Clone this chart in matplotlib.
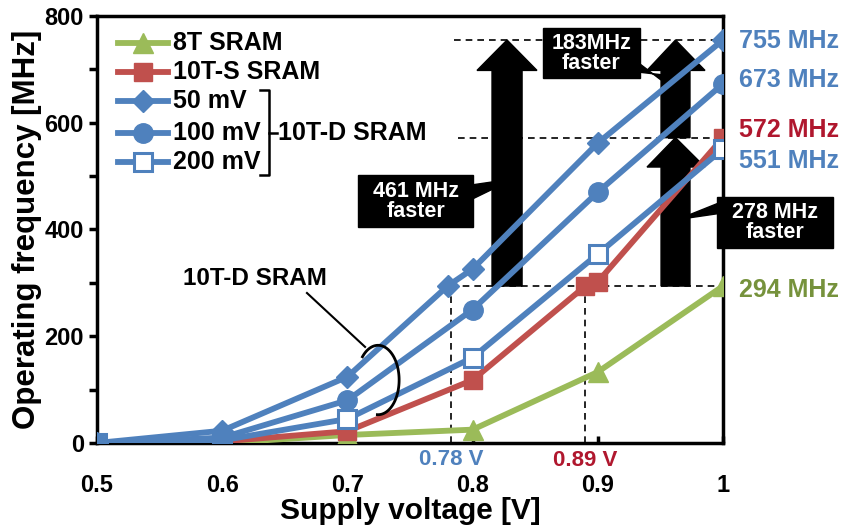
import numpy as np
import matplotlib.pyplot as plt
from matplotlib.patches import Polygon, Rectangle

plt.rcParams['font.family'] = ['Liberation Sans', 'DejaVu Sans']
plt.rcParams['font.weight'] = 'bold'

# data
v_8t = [0.5, 0.6, 0.7, 0.8, 0.9, 1.0]
f_8t = [0, 0, 15, 25, 133, 294]
v_10ts = [0.5, 0.6, 0.7, 0.8, 0.89, 0.9, 1.0]
f_10ts = [0, 3, 22, 118, 294, 302, 572]
v_50 = [0.5, 0.6, 0.7, 0.78, 0.8, 0.9, 1.0]
f_50 = [0, 23, 124, 294, 326, 562, 755]
v_100 = [0.5, 0.6, 0.7, 0.8, 0.9, 1.0]
f_100 = [0, 10, 80, 250, 470, 673]
v_200 = [0.5, 0.6, 0.7, 0.8, 0.9, 1.0]
f_200 = [0, 5, 45, 160, 354, 551]

blue = '#4F81BD'
red = '#C0504D'
green = '#9BBB59'
dred = '#B0172E'
dgreen = '#76923C'

fig = plt.figure(figsize=(8.42, 5.29), dpi=100)
ax = fig.add_axes([0.1152, 0.1626, 0.7435, 0.8072])

lw = 4.2
st_8t = dict(color=green, lw=lw, marker='^', ms=15)
st_10ts = dict(color=red, lw=lw, marker='s', ms=13)
st_50 = dict(color=blue, lw=lw, marker='D', ms=11.5)
st_100 = dict(color=blue, lw=lw, marker='o', ms=14)
st_200 = dict(color=blue, lw=lw, marker='s', ms=13, mfc='white', mec=blue, mew=2.2)

ax.plot(v_8t, f_8t, zorder=5, **st_8t)
ax.plot(v_10ts, f_10ts, zorder=5, **st_10ts)
ax.plot(v_200, f_200, zorder=6, **st_200)
ax.plot(v_100, f_100, zorder=6, **st_100)
ax.plot(v_50, f_50, zorder=6, **st_50)

ax.set_xlim(0.5, 1.0)
ax.set_ylim(0, 800)
ax.set_xticks([0.5, 0.6, 0.7, 0.8, 0.9, 1.0])
ax.set_xticklabels(['0.5', '0.6', '0.7', '0.8', '0.9', '1'])
ax.set_yticks([0, 200, 400, 600, 800])
ax.set_yticks([100, 300, 500, 700], minor=True)
ax.tick_params(axis='y', which='both', direction='out', length=6, width=2.5, labelsize=17)
ax.tick_params(axis='x', direction='in', length=5, width=2.5, labelsize=17, pad=22)
for s in ax.spines.values():
    s.set_linewidth(2.5)
ax.set_xlabel('Supply voltage [V]', fontsize=21.5, fontweight='bold', labelpad=0)
ax.set_ylabel('Operating frequency [MHz]', fontsize=22.5, fontweight='bold', labelpad=2)

# dashed guides
dk = dict(color='black', lw=1.2, ls=(0, (4, 3)), zorder=3)
ax.plot([0.785, 1.0], [755, 755], **dk)
ax.plot([0.788, 1.0], [572, 572], **dk)
ax.plot([0.783, 1.0], [294, 294], **dk)
ax.plot([0.783, 0.783], [0, 294], **dk)
ax.plot([0.89, 0.89], [0, 294], **dk)

# black arrows
def up_arrow(x0, x1, h0, h1, ybot, ytip, yhead):
    xm = (x0 + x1) / 2
    pts = [(x0, ybot), (x1, ybot), (x1, yhead), (h1, yhead), (xm, ytip),
           (h0, yhead), (x0, yhead)]
    ax.add_patch(Polygon(pts, closed=True, color='black', zorder=2))

up_arrow(0.8155, 0.8395, 0.8035, 0.8514, 294, 755, 698)
up_arrow(0.9505, 0.9736, 0.9393, 0.9856, 572, 755, 698)
up_arrow(0.9505, 0.9736, 0.9393, 0.9856, 294, 572, 517)

# callout boxes
def callout(x0, x1, y0, y1, wedge, txt):
    ax.add_patch(Rectangle((x0, y0), x1 - x0, y1 - y0, color='black',
                           zorder=7, clip_on=False))
    ax.add_patch(Polygon(wedge, closed=True, color='black', zorder=7, clip_on=False))
    ax.text((x0 + x1) / 2, (y0 + y1) / 2, txt, color='white', fontsize=15.5,
            fontweight='bold', ha='center', va='center', linespacing=0.95,
            zorder=8, clip_on=False)

callout(0.7085, 0.8003, 404, 502,
        [(0.798, 483), (0.8155, 489), (0.8155, 475), (0.798, 455)], '461 MHz\nfaster')
callout(0.8562, 0.9337, 683, 777,
        [(0.932, 713), (0.9505, 680), (0.9505, 690), (0.932, 695)], '183MHz\nfaster')
callout(0.9952, 1.0879, 365, 461,
        [(0.997, 450), (0.9736, 428), (0.9736, 422), (0.997, 430)], '278 MHz\nfaster')

# right side value labels
lk = dict(fontsize=18, fontweight='bold', va='center', ha='left', clip_on=False)
ax.text(1.013, 753, '755 MHz', color=blue, **lk)
ax.text(1.013, 680, '673 MHz', color=blue, **lk)
ax.text(1.013, 586, '572 MHz', color=dred, **lk)
ax.text(1.013, 528, '551 MHz', color=blue, **lk)
ax.text(1.013, 286, '294 MHz', color=dgreen, **lk)

ax.text(0.783, -31, '0.78 V', color=blue, fontsize=16, fontweight='bold',
        ha='center', va='center', clip_on=False)
ax.text(0.89, -32, '0.89 V', color=dred, fontsize=16, fontweight='bold',
        ha='center', va='center', clip_on=False)

# 10T-D annotation with open ellipse
t = np.radians(np.linspace(-92, 138, 100))
ax.plot(0.7245 + 0.0168 * np.cos(t), 118 + 65 * np.sin(t), color='black', lw=2, zorder=7)
ax.plot([0.6677, 0.7141], [281, 180], color='black', lw=1.5, zorder=7)
ax.text(0.626, 309, '10T-D SRAM', fontsize=17.5, fontweight='bold',
        ha='center', va='center')

# legend drawn by hand so the bracket lines up
names = ['8T SRAM', '10T-S SRAM', '50 mV', '100 mV', '200 mV']
styles = [st_8t, st_10ts, st_50, st_100, st_200]
rows = [749, 695, 641, 581, 526]
for name, st, yy in zip(names, styles, rows):
    ax.plot([0.5168, 0.5567], [yy, yy], color=st['color'], lw=lw, zorder=8)
    mk = dict(st)
    mk.pop('lw')
    ax.plot([0.5367], [yy], ls='none', zorder=9, **mk)
    ax.text(0.5607, yy, name, fontsize=18, fontweight='bold', ha='left', va='center')

# bracket for 10T-D group
bx = 0.6374
ax.plot([bx - 0.0072, bx, bx, bx - 0.0072], [661, 661, 502, 502],
        color='black', lw=1.8)
ax.plot([bx, bx + 0.0065], [581, 581], color='black', lw=1.8)
ax.text(bx + 0.0072, 581, '10T-D SRAM', fontsize=18, fontweight='bold',
        ha='left', va='center')

fig.savefig('out.png', dpi=100)
